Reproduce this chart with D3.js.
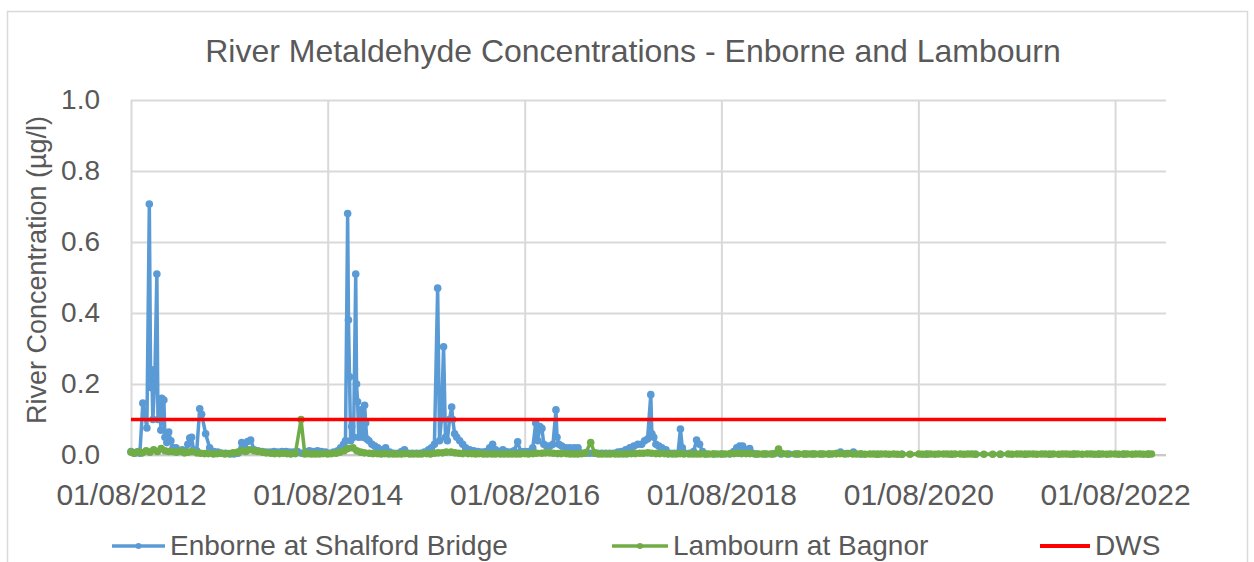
<!DOCTYPE html>
<html>
<head>
<meta charset="utf-8">
<script src="https://cdn.jsdelivr.net/npm/d3@7"></script>
<style>
  body { margin: 0; background: #fff; }
  text { font-family: "Liberation Sans", Arial, sans-serif; fill: #595959; }
</style>
</head>
<body>
<svg id="chart"></svg>
<script>
const width = 1254;
const height = 562;
const marginTop = 100;
const marginRight = 88;
const marginBottom = 107;
const marginLeft = 131;

// axis settings
const xDomain = ["2012-08-01", "2023-02-06"];
const xTickDates = ["2012-08-01", "2014-08-01", "2016-08-01", "2018-08-01", "2020-08-01", "2022-08-01"];
const yTicks = [0, 0.2, 0.4, 0.6, 0.8, 1.0];
const dwsLimit = 0.1;

const titleText = "River Metaldehyde Concentrations - Enborne and Lambourn";
const yTitle = "River Concentration (µg/l)";
const seriesNames = ["Enborne at Shalford Bridge", "Lambourn at Bagnor", "DWS"];

// Enborne at Shalford Bridge
const enborneDates = [
  "2012-08-01","2012-08-12","2012-08-23","2012-09-03","2012-09-14","2012-09-29","2012-10-08","2012-10-13","2012-10-17","2012-10-21","2012-10-28","2012-11-05","2012-11-09","2012-11-16","2012-11-20","2012-11-23","2012-12-01","2012-12-05","2012-12-12","2012-12-19","2012-12-27",
  "2013-01-04","2013-01-15","2013-01-26","2013-02-07","2013-02-18","2013-02-28","2013-03-07","2013-03-14","2013-03-21","2013-04-02","2013-04-13","2013-04-20","2013-05-05","2013-05-20","2013-06-04","2013-06-19","2013-07-04","2013-07-18","2013-08-03","2013-08-18","2013-09-02","2013-09-16","2013-09-27","2013-10-08","2013-10-19","2013-11-01","2013-11-15","2013-11-30","2013-12-15","2013-12-30",
  "2014-01-14","2014-01-28","2014-02-12","2014-02-27","2014-03-13","2014-03-27","2014-04-11","2014-04-26","2014-05-11","2014-05-25","2014-06-09","2014-06-24","2014-07-09","2014-07-24","2014-08-08","2014-08-23","2014-09-07","2014-09-18","2014-09-29","2014-10-06","2014-10-14","2014-10-17","2014-10-21","2014-10-25","2014-10-29","2014-11-05","2014-11-13","2014-11-16","2014-11-20","2014-11-24","2014-12-01","2014-12-05","2014-12-09","2014-12-16","2014-12-20","2014-12-24",
  "2015-01-01","2015-01-12","2015-01-23","2015-02-03","2015-02-18","2015-03-04","2015-03-19","2015-04-03","2015-04-18","2015-05-02","2015-05-13","2015-05-28","2015-06-12","2015-06-27","2015-07-11","2015-07-26","2015-08-10","2015-08-21","2015-09-01","2015-09-13","2015-09-20","2015-09-27","2015-10-05","2015-10-12","2015-10-19","2015-10-27","2015-11-04","2015-11-08","2015-11-15","2015-11-23","2015-12-04","2015-12-15","2015-12-26",
  "2016-01-10","2016-01-25","2016-02-09","2016-02-24","2016-03-10","2016-03-24","2016-04-04","2016-04-15","2016-05-01","2016-05-12","2016-05-23","2016-06-07","2016-06-22","2016-07-06","2016-07-17","2016-08-02","2016-08-16","2016-08-31","2016-09-11","2016-09-19","2016-09-26","2016-10-04","2016-10-11","2016-10-22","2016-11-02","2016-11-14","2016-11-25","2016-11-29","2016-12-06","2016-12-17",
  "2017-01-02","2017-01-16","2017-02-01","2017-02-15","2017-03-01","2017-03-15","2017-03-30","2017-04-14","2017-04-29","2017-05-14","2017-05-29","2017-06-13","2017-06-28","2017-07-13","2017-07-27","2017-08-11","2017-08-26","2017-09-10","2017-09-25","2017-10-09","2017-10-20","2017-10-31","2017-11-12","2017-11-16","2017-11-23","2017-12-01","2017-12-12","2017-12-23",
  "2018-01-07","2018-01-22","2018-02-06","2018-02-21","2018-03-02","2018-03-09","2018-03-20","2018-04-05","2018-04-20","2018-05-01","2018-05-12","2018-05-23","2018-06-04","2018-07-03","2018-08-02","2018-09-01","2018-09-16","2018-09-27","2018-10-08","2018-10-19","2018-10-31","2018-11-14","2018-11-25","2018-12-10",
  "2019-01-09","2019-02-08","2019-03-10","2019-04-09","2019-05-09","2019-06-08","2019-07-08","2019-08-07","2019-09-06","2019-10-02","2019-10-17","2019-11-08","2019-12-04","2019-12-30",
  "2020-03-02","2020-06-01","2020-09-01","2020-12-01","2021-03-01","2021-06-01","2021-09-01","2021-12-01","2022-03-01","2022-06-01","2022-09-01","2022-12-01"
];
const enborneValues = [
  0.01,0.005,0.008,0.005,0.146,0.076,0.707,0.19,0.24,0.1,0.2,0.51,0.1,0.155,0.07,0.16,0.155,0.05,0.035,0.065,0.04,
  0.02,0.02,0.01,0.015,0.01,0.03,0.048,0.05,0.015,0.012,0.13,0.115,0.06,0.02,0.01,0.008,0.005,0.005,0.003,0.003,0.005,0.035,0.02,0.038,0.042,0.015,0.012,0.01,0.008,0.008,
  0.01,0.008,0.01,0.01,0.008,0.008,0.01,0.005,0.008,0.012,0.01,0.012,0.01,0.008,0.005,0.008,0.012,0.02,0.03,0.04,0.68,0.38,0.22,0.04,0.08,0.05,0.51,0.2,0.15,0.05,0.127,0.06,0.05,0.14,0.09,0.045,
  0.04,0.03,0.025,0.02,0.015,0.02,0.008,0.005,0.005,0.01,0.015,0.005,0.005,0.005,0.005,0.008,0.015,0.02,0.03,0.47,0.04,0.1,0.305,0.05,0.04,0.1,0.135,0.1,0.06,0.05,0.04,0.03,0.02,
  0.015,0.012,0.01,0.008,0.01,0.02,0.03,0.015,0.01,0.015,0.01,0.008,0.012,0.037,0.01,0.01,0.01,0.02,0.09,0.04,0.08,0.075,0.03,0.025,0.025,0.03,0.127,0.05,0.03,0.025,
  0.02,0.02,0.02,0.02,0.005,0.005,0.005,0.005,0.005,0.005,0.005,0.005,0.005,0.008,0.01,0.015,0.02,0.025,0.03,0.03,0.04,0.045,0.17,0.06,0.05,0.03,0.025,0.02,
  0.015,0.005,0.005,0.005,0.073,0.02,0.005,0.005,0.01,0.042,0.03,0.01,0.003,0.003,0.003,0.003,0.01,0.02,0.025,0.025,0.015,0.018,0.005,0.003,
  0.003,0.003,0.003,0.003,0.003,0.003,0.003,0.003,0.003,0.004,0.008,0.004,0.008,0.003,
  0.002,0.002,0.002,0.002,0.002,0.002,0.002,0.002,0.002,0.002,0.002,0.002
];

// Lambourn at Bagnor
const lambournDates = [
  "2012-08-01","2012-08-15","2012-08-29","2012-09-12","2012-09-26","2012-10-10","2012-10-24","2012-11-07","2012-11-21","2012-12-05","2012-12-19",
  "2013-01-02","2013-01-16","2013-02-01","2013-02-15","2013-03-01","2013-03-15","2013-04-02","2013-04-16","2013-05-01","2013-05-15","2013-06-03","2013-06-17","2013-07-01","2013-07-15","2013-08-01","2013-08-15","2013-09-02","2013-09-16","2013-10-01","2013-10-15","2013-11-01","2013-11-15","2013-12-02","2013-12-16",
  "2014-01-02","2014-01-16","2014-02-03","2014-02-17","2014-03-03","2014-03-17","2014-04-03","2014-04-24","2014-05-08","2014-05-22","2014-06-02","2014-06-16","2014-07-01","2014-07-15","2014-08-01","2014-08-15","2014-09-01","2014-09-15","2014-10-01","2014-10-15","2014-11-03","2014-11-17","2014-12-01","2014-12-15",
  "2015-01-02","2015-01-16","2015-02-02","2015-02-16","2015-03-02","2015-03-16","2015-04-01","2015-04-15","2015-05-01","2015-05-15","2015-06-01","2015-06-15","2015-07-01","2015-07-15","2015-08-03","2015-08-17","2015-09-01","2015-09-15","2015-10-01","2015-10-15","2015-11-02","2015-11-16","2015-12-01","2015-12-15",
  "2016-01-04","2016-01-18","2016-02-01","2016-02-15","2016-03-01","2016-03-15","2016-04-01","2016-04-15","2016-05-03","2016-05-17","2016-06-01","2016-06-15","2016-07-01","2016-07-15","2016-08-01","2016-08-15","2016-09-01","2016-09-15","2016-10-03","2016-10-17","2016-11-01","2016-11-15","2016-12-01","2016-12-15",
  "2017-01-03","2017-01-17","2017-02-01","2017-02-15","2017-03-01","2017-03-15","2017-04-03","2017-04-18","2017-05-02","2017-05-16","2017-06-01","2017-06-15","2017-07-03","2017-07-17","2017-08-01","2017-08-15","2017-09-01","2017-09-15","2017-10-02","2017-10-16","2017-11-01","2017-11-15","2017-12-01","2017-12-15",
  "2018-01-02","2018-01-16","2018-02-01","2018-02-15","2018-03-01","2018-03-15","2018-04-03","2018-04-17","2018-05-01","2018-05-15","2018-06-01","2018-06-15","2018-07-02","2018-07-16","2018-08-01","2018-08-15","2018-09-03","2018-09-17","2018-10-01","2018-10-15","2018-11-01","2018-11-15","2018-12-03","2018-12-17",
  "2019-01-02","2019-01-16","2019-02-01","2019-02-15","2019-03-01","2019-03-15","2019-04-01","2019-05-01","2019-05-15","2019-06-03","2019-06-17","2019-07-01","2019-07-15","2019-08-01","2019-08-15","2019-09-02","2019-09-16","2019-10-01","2019-10-15","2019-11-01","2019-11-15","2019-12-02","2019-12-16",
  "2020-01-02","2020-01-16","2020-02-03","2020-02-17","2020-03-02","2020-03-16","2020-04-01","2020-04-15","2020-05-01","2020-05-15","2020-06-01","2020-07-01","2020-08-03","2020-08-17","2020-09-01","2020-09-15","2020-10-01","2020-10-15","2020-11-02","2020-11-16","2020-12-01","2020-12-15",
  "2021-01-04","2021-01-18","2021-02-01","2021-02-15","2021-03-01","2021-04-01","2021-05-04","2021-06-01","2021-07-01","2021-07-15","2021-08-02","2021-08-16","2021-09-01","2021-09-15","2021-10-01","2021-10-15","2021-11-01","2021-11-15","2021-12-01","2021-12-15",
  "2022-01-04","2022-01-18","2022-02-01","2022-02-15","2022-03-01","2022-03-15","2022-04-01","2022-04-19","2022-05-03","2022-05-16","2022-06-01","2022-06-15","2022-07-01","2022-07-15","2022-08-01","2022-08-15","2022-09-01","2022-09-15","2022-10-03","2022-10-17","2022-11-01","2022-11-15","2022-12-01","2022-12-14"
];
const lambournValues = [
  0.008,0.005,0.01,0.006,0.012,0.008,0.015,0.01,0.018,0.012,0.01,
  0.01,0.008,0.012,0.006,0.008,0.01,0.006,0.005,0.004,0.004,0.003,0.004,0.005,0.003,0.004,0.006,0.008,0.012,0.01,0.015,0.012,0.01,0.008,0.006,
  0.005,0.004,0.004,0.005,0.004,0.003,0.004,0.1,0.003,0.004,0.003,0.003,0.003,0.004,0.003,0.004,0.005,0.008,0.012,0.018,0.02,0.012,0.008,0.006,
  0.005,0.004,0.004,0.003,0.004,0.003,0.003,0.003,0.003,0.004,0.003,0.003,0.003,0.003,0.004,0.003,0.005,0.006,0.006,0.008,0.008,0.006,0.005,0.004,
  0.004,0.004,0.003,0.004,0.003,0.003,0.003,0.003,0.003,0.003,0.003,0.003,0.003,0.003,0.004,0.003,0.004,0.005,0.005,0.006,0.006,0.005,0.004,0.004,
  0.004,0.003,0.003,0.003,0.004,0.006,0.035,0.006,0.003,0.003,0.003,0.003,0.003,0.003,0.003,0.003,0.004,0.004,0.005,0.005,0.006,0.005,0.004,0.004,
  0.004,0.003,0.003,0.003,0.004,0.003,0.003,0.003,0.003,0.003,0.003,0.003,0.003,0.003,0.003,0.003,0.004,0.004,0.005,0.004,0.004,0.004,0.003,0.003,
  0.003,0.003,0.003,0.004,0.017,0.004,0.003,0.003,0.003,0.003,0.003,0.003,0.003,0.003,0.003,0.003,0.003,0.004,0.004,0.003,0.004,0.003,0.003,
  0.003,0.002,0.003,0.003,0.002,0.003,0.003,0.002,0.003,0.002,0.002,0.002,0.003,0.002,0.003,0.003,0.002,0.003,0.003,0.003,0.002,0.003,
  0.003,0.002,0.003,0.003,0.002,0.002,0.002,0.002,0.003,0.002,0.003,0.003,0.002,0.003,0.003,0.002,0.003,0.003,0.002,0.003,
  0.002,0.003,0.003,0.002,0.003,0.003,0.002,0.003,0.003,0.002,0.003,0.003,0.002,0.003,0.003,0.002,0.003,0.003,0.002,0.003,0.003,0.002,0.003,0.003
];

const blue = "#5b9bd5";
const green = "#70ad47";
const red = "#ff0000";
const gridColor = "#d9d9d9";

const parse = d3.utcParse("%Y-%m-%d");

const enborne = d3.zip(enborneDates, enborneValues).map(([d, v]) => ({ date: parse(d), value: v }));
const lambourn = d3.zip(lambournDates, lambournValues).map(([d, v]) => ({ date: parse(d), value: v }));
const dws = xDomain.map((d) => ({ date: parse(d), value: dwsLimit }));

const svg = d3.select("#chart").attr("width", width).attr("height", height);

// chart frame
svg.append("rect")
  .attr("x", 7.5).attr("y", 11.5)
  .attr("width", 1240).attr("height", 620)
  .attr("fill", "#fff")
  .attr("stroke", gridColor)
  .attr("stroke-width", 1.5);

const xScale = d3.scaleUtc()
  .domain(xDomain.map(parse))
  .range([marginLeft, width - marginRight]);

const yScale = d3.scaleLinear()
  .domain([0, 1])
  .range([height - marginBottom, marginTop]);

// horizontal grid + y labels
const yAxis = svg.append("g")
  .attr("transform", "translate(" + marginLeft + ",0)")
  .call(d3.axisLeft(yScale)
    .tickValues(yTicks)
    .tickFormat(d3.format(".1f"))
    .tickSize(-(width - marginRight - marginLeft))
    .tickPadding(31));
yAxis.select(".domain").remove();
yAxis.selectAll("line").attr("stroke", gridColor).attr("stroke-width", 2);
yAxis.selectAll("text")
  .attr("fill", "#595959")
  .style("font-size", "28px")
  .style("font-family", "'Liberation Sans', Arial, sans-serif");

// vertical grid + x labels
const xAxis = svg.append("g")
  .attr("transform", "translate(0," + (height - marginBottom) + ")")
  .call(d3.axisBottom(xScale)
    .tickValues(xTickDates.map(parse))
    .tickFormat(d3.utcFormat("%d/%m/%Y"))
    .tickSize(-(height - marginBottom - marginTop)));
xAxis.select(".domain").remove();
xAxis.selectAll("line").attr("stroke", gridColor).attr("stroke-width", 2);
xAxis.selectAll("text")
  .attr("y", 50)
  .attr("dy", 0)
  .attr("fill", "#595959")
  .style("font-size", "30px")
  .style("font-family", "'Liberation Sans', Arial, sans-serif");

// zero line a little darker
svg.append("line")
  .attr("x1", marginLeft).attr("x2", width - marginRight)
  .attr("y1", yScale(0)).attr("y2", yScale(0))
  .attr("stroke", "#c8c8c8").attr("stroke-width", 2);

const line = d3.line()
  .x((d) => xScale(d.date))
  .y((d) => yScale(d.value));

function drawSeries(data, color) {
  const g = svg.append("g");
  g.append("path")
    .datum(data)
    .attr("fill", "none")
    .attr("stroke", color)
    .attr("stroke-width", 3.5)
    .attr("stroke-linejoin", "round")
    .attr("d", line);
  g.selectAll("circle")
    .data(data)
    .join("circle")
    .attr("cx", (d) => xScale(d.date))
    .attr("cy", (d) => yScale(d.value))
    .attr("r", 3.8)
    .attr("fill", color);
}

drawSeries(enborne, blue);
drawSeries(lambourn, green);

// DWS limit line
svg.append("path")
  .datum(dws)
  .attr("fill", "none")
  .attr("stroke", red)
  .attr("stroke-width", 3.5)
  .attr("d", line);

// title
svg.append("text")
  .attr("x", 633)
  .attr("y", 62)
  .attr("text-anchor", "middle")
  .style("font-size", "32px")
  .text(titleText);

// y axis title
svg.append("text")
  .attr("transform", "translate(46,270) rotate(-90)")
  .attr("text-anchor", "middle")
  .style("font-size", "27px")
  .text(yTitle);

// legend
const legendItems = [
  { name: seriesNames[0], color: blue, x1: 112, x2: 165, marker: true },
  { name: seriesNames[1], color: green, x1: 612, x2: 668, marker: true },
  { name: seriesNames[2], color: red, x1: 1040, x2: 1090, marker: false }
];
const legendY = 546;
const legend = svg.append("g");
legendItems.forEach((item) => {
  legend.append("line")
    .attr("x1", item.x1).attr("x2", item.x2)
    .attr("y1", legendY).attr("y2", legendY)
    .attr("stroke", item.color)
    .attr("stroke-width", item.marker ? 3.5 : 4);
  if (item.marker) {
    legend.append("circle")
      .attr("cx", (item.x1 + item.x2) / 2)
      .attr("cy", legendY)
      .attr("r", 3)
      .attr("fill", item.color);
  }
  legend.append("text")
    .attr("x", item.x2 + 5)
    .attr("y", legendY + 9)
    .style("font-size", "28px")
    .text(item.name);
});
</script>
</body>
</html>
